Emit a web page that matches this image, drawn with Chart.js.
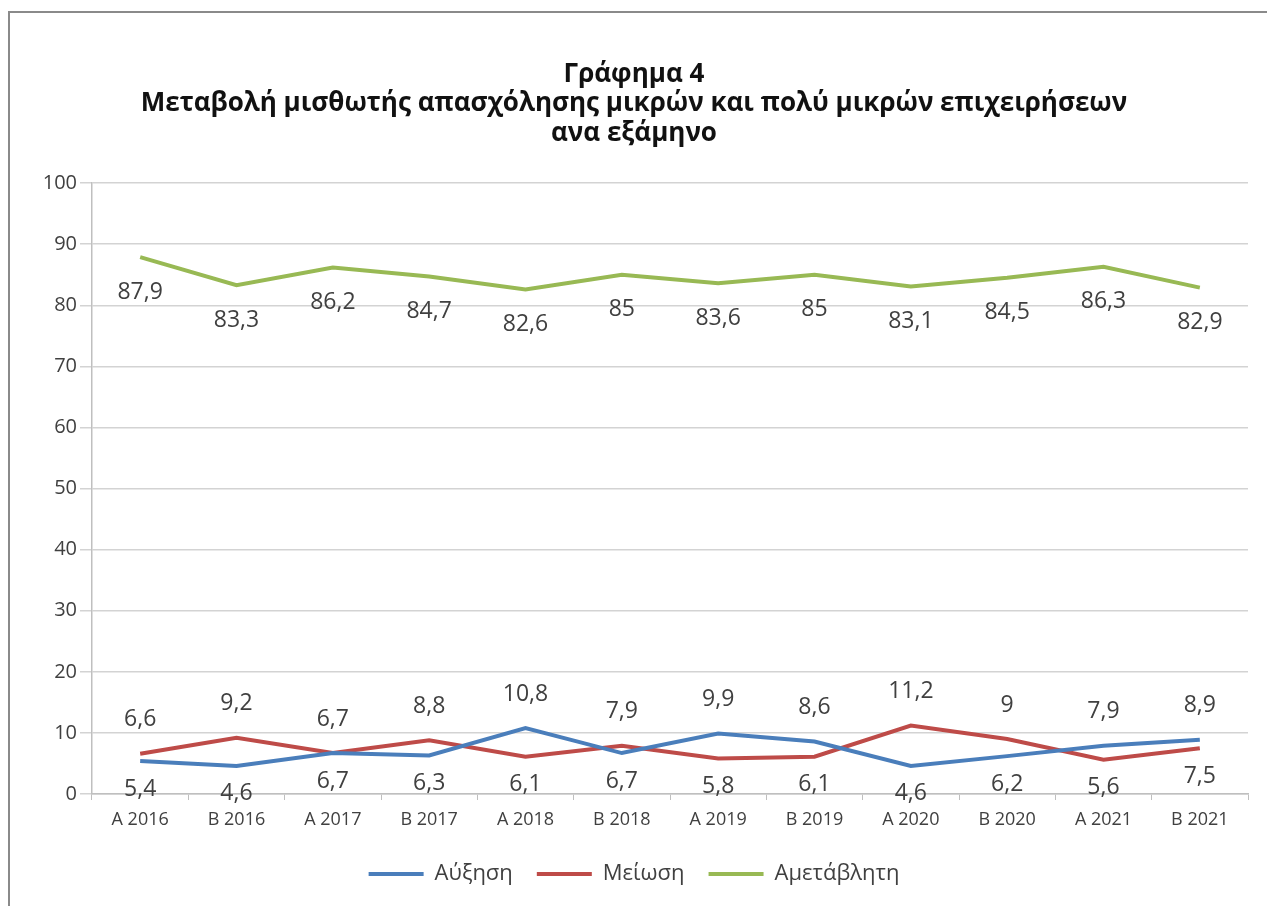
<!DOCTYPE html>
<html>
<head>
<meta charset="utf-8">
<script src="https://cdn.jsdelivr.net/npm/chart.js@4"></script>
<style>
  html, body { margin: 0; padding: 0; background: #fff; overflow: hidden; }
  #frame { position: absolute; left: 8px; top: 11px; width: 1300px; height: 1000px; border: 2px solid #8a8a8a; box-sizing: border-box; }
  #wrap { position: absolute; left: 0; top: 0; width: 1267px; height: 906px; }
</style>
</head>
<body>
<div id="frame"></div>
<div id="wrap"><canvas id="chart" width="1267" height="906"></canvas></div>
<script>
const periods = ['Α 2016', 'Β 2016', 'Α 2017', 'Β 2017', 'Α 2018', 'Β 2018', 'Α 2019', 'Β 2019', 'Α 2020', 'Β 2020', 'Α 2021', 'Β 2021'];
const increase = [5.4, 4.6, 6.7, 6.3, 10.8, 6.7, 9.9, 8.6, 4.6, 6.2, 7.9, 8.9];
const decrease = [6.6, 9.2, 6.7, 8.8, 6.1, 7.9, 5.8, 6.1, 11.2, 9, 5.6, 7.5];
const unchanged = [87.9, 83.3, 86.2, 84.7, 82.6, 85, 83.6, 85, 83.1, 84.5, 86.3, 82.9];

const FONT = '"Open Sans", "Noto Sans", sans-serif';
const TEXT = '#404040';

// values written next to the points, Greek decimal comma
const pointLabels = {
  id: 'pointLabels',
  afterDatasetsDraw(chart) {
    const ctx = chart.ctx;
    ctx.save();
    ctx.font = '23px ' + FONT;
    ctx.fillStyle = TEXT;
    ctx.textAlign = 'center';
    ctx.textBaseline = 'middle';
    chart.data.datasets.forEach((ds, di) => {
      const meta = chart.getDatasetMeta(di);
      meta.data.forEach((pt, i) => {
        let dy;
        if (di === 2) {
          dy = 35;
        } else {
          const mine = ds.data[i];
          const other = chart.data.datasets[di === 0 ? 1 : 0].data[i];
          const above = mine > other || (mine === other && di === 1);
          dy = above ? -34 : 28;
        }
        ctx.fillText(String(ds.data[i]).replace('.', ','), pt.x, pt.y + dy);
      });
    });
    ctx.restore();
  }
};

new Chart(document.getElementById('chart'), {
  type: 'line',
  data: {
    labels: periods,
    datasets: [
      { label: 'Αύξηση', data: increase, borderColor: '#4a7ebb', backgroundColor: '#4a7ebb', borderWidth: 4 },
      { label: 'Μείωση', data: decrease, borderColor: '#be4b48', backgroundColor: '#be4b48', borderWidth: 4 },
      { label: 'Αμετάβλητη', data: unchanged, borderColor: '#98b954', backgroundColor: '#98b954', borderWidth: 4 }
    ]
  },
  options: {
    responsive: false,
    animation: false,
    elements: {
      line: { tension: 0 },
      point: { radius: 0, hoverRadius: 0 }
    },
    layout: { padding: { left: 20, right: 19, top: 0, bottom: 11 } },
    plugins: {
      title: {
        display: true,
        text: ['Γράφημα 4', 'Μεταβολή μισθωτής απασχόλησης μικρών και πολύ μικρών επιχειρήσεων', 'ανα εξάμηνο'],
        color: '#111',
        font: { family: FONT, size: 26, weight: 'bold', lineHeight: 1.13 },
        padding: { top: 60, bottom: 35 }
      },
      legend: {
        position: 'bottom',
        labels: {
          usePointStyle: true,
          pointStyle: 'line',
          pointStyleWidth: 55,
          boxHeight: 4,
          color: TEXT,
          font: { family: FONT, size: 22 },
          padding: 24
        }
      },
      tooltip: { enabled: false }
    },
    scales: {
      x: {
        offset: true,
        grid: { offset: true, drawOnChartArea: false, color: '#bfbfbf', tickLength: 6 },
        border: { color: '#bfbfbf', width: 1.5 },
        ticks: { color: TEXT, font: { family: FONT, size: 18 }, padding: 9, maxRotation: 0 },
        afterFit(scale) { scale.height = 45; }
      },
      y: {
        min: 0,
        max: 100,
        ticks: { stepSize: 10, color: TEXT, font: { family: FONT, size: 20 }, padding: 3 },
        grid: { color: '#d3d3d3', lineWidth: 1.5, tickLength: 12 },
        border: { color: '#bfbfbf', width: 1.5 },
        afterFit(scale) { scale.width = 72; }
      }
    }
  },
  plugins: [pointLabels]
});
</script>
</body>
</html>
